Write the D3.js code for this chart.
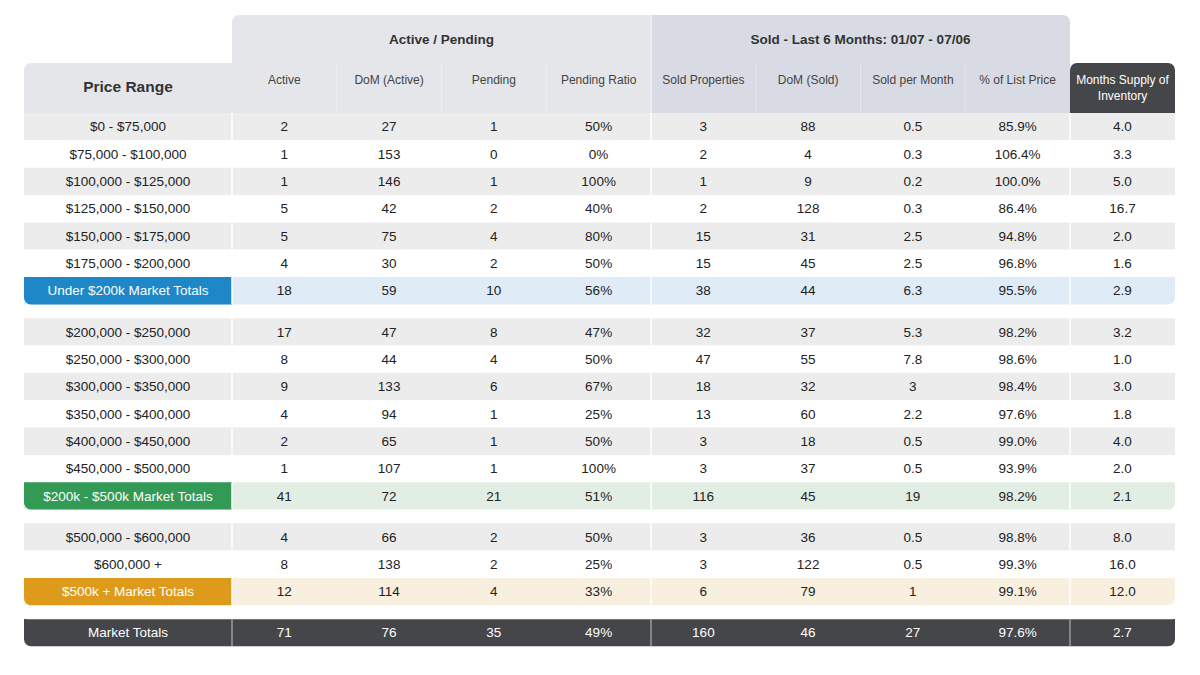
<html>
<body style="margin:0;background:#fff">
    <svg id="mainSvg" width="1200" height="675"></svg>
</body>
<script src="https://d3js.org/d3.v7.min.js"></script>
<script>
    // ---- data ----
    const priceRanges = [
        '$0 - $75,000', '$75,000 - $100,000', '$100,000 - $125,000', '$125,000 - $150,000',
        '$150,000 - $175,000', '$175,000 - $200,000', 'Under $200k Market Totals',
        '$200,000 - $250,000', '$250,000 - $300,000', '$300,000 - $350,000', '$350,000 - $400,000',
        '$400,000 - $450,000', '$450,000 - $500,000', '$200k - $500k Market Totals',
        '$500,000 - $600,000', '$600,000 +', '$500k + Market Totals',
        'Market Totals'
    ]
    const rowGroup = [0,0,0,0,0,0,0, 1,1,1,1,1,1,1, 2,2,2, 3]
    const rowType = ['r','r','r','r','r','r','t', 'r','r','r','r','r','r','t', 'r','r','t', 'g']

    const active       = ['2','1','1','5','5','4','18', '17','8','9','4','2','1','41', '4','8','12', '71']
    const domActive    = ['27','153','146','42','75','30','59', '47','44','133','94','65','107','72', '66','138','114', '76']
    const pending      = ['1','0','1','2','4','2','10', '8','4','6','1','1','1','21', '2','2','4', '35']
    const pendingRatio = ['50%','0%','100%','40%','80%','50%','56%', '47%','50%','67%','25%','50%','100%','51%', '50%','25%','33%', '49%']
    const soldProps    = ['3','2','1','2','15','15','38', '32','47','18','13','3','3','116', '3','3','6', '160']
    const domSold      = ['88','4','9','128','31','45','44', '37','55','32','60','18','37','45', '36','122','79', '46']
    const soldPerMonth = ['0.5','0.3','0.2','0.3','2.5','2.5','6.3', '5.3','7.8','3','2.2','0.5','0.5','19', '0.5','0.5','1', '27']
    const pctListPrice = ['85.9%','106.4%','100.0%','86.4%','94.8%','96.8%','95.5%', '98.2%','98.6%','98.4%','97.6%','99.0%','93.9%','98.2%', '98.8%','99.3%','99.1%', '97.6%']
    const monthsSupply = ['4.0','3.3','5.0','16.7','2.0','1.6','2.9', '3.2','1.0','3.0','1.8','4.0','2.0','2.1', '8.0','16.0','12.0', '2.7']

    const groupHeaders = ['Active / Pending', 'Sold - Last 6 Months: 01/07 - 07/06']
    const subHeaders = ['Active', 'DoM (Active)', 'Pending', 'Pending Ratio',
                        'Sold Properties', 'DoM (Sold)', 'Sold per Month', '% of List Price']
    const subColumns = [active, domActive, pending, pendingRatio, soldProps, domSold, soldPerMonth, pctListPrice]

    const totalFill = ['#1e87c8', '#329a55', '#dd9a1b']
    const totalTint = ['#dfebf7', '#e2eee4', '#f9efdf']

    // ---- layout ----
    const svg = d3.select('#mainSvg')
    const left = 24, labelRight = 232, subRight = 1070, right = 1175
    const groupTop = 15, headTop = 63, bodyTop = 113, rowH = 27.35
    const font = 'Liberation Sans, Arial, sans-serif'

    const xSub = d3.scaleBand().domain(d3.range(subHeaders.length)).range([labelRight, subRight])
    const slots = rowGroup.map((g, i) => i + g * 0.5)
    const yScale = d3.scaleLinear().domain([0, 1]).range([bodyTop, bodyTop + rowH])

    function rr(x, y, w, h, r) {
        const [tl, tr, br, bl] = r
        return `M${x + tl},${y}H${x + w - tr}A${tr},${tr} 0 0 1 ${x + w},${y + tr}` +
            `V${y + h - br}A${br},${br} 0 0 1 ${x + w - br},${y + h}` +
            `H${x + bl}A${bl},${bl} 0 0 1 ${x},${y + h - bl}V${y + tl}A${tl},${tl} 0 0 1 ${x + tl},${y}Z`
    }
    const R = 7

    // ---- header ----
    const head = svg.append('g')
    head.append('path').attr('d', rr(labelRight, groupTop, xSub(4) - labelRight, bodyTop - groupTop, [R, 0, 0, 0])).attr('fill', '#e5e6ea')
    head.append('path').attr('d', rr(xSub(4), groupTop, subRight - xSub(4), bodyTop - groupTop, [0, R, 0, 0])).attr('fill', '#d8dbe3')
    head.append('path').attr('d', rr(left, headTop, labelRight - left, bodyTop - headTop, [R, 0, 0, 0])).attr('fill', '#e5e6ea')
    head.append('path').attr('d', rr(subRight, headTop, right - subRight, bodyTop - headTop, [R, R, 0, 0])).attr('fill', '#45464a')

    head.selectAll('.subsep').data(d3.range(1, 8).filter(i => i !== 4)).join('line')
        .attr('x1', i => xSub(i)).attr('x2', i => xSub(i))
        .attr('y1', headTop).attr('y2', bodyTop)
        .attr('stroke', '#ffffff').attr('stroke-opacity', 0.35).attr('stroke-width', 1)
    head.append('line').attr('x1', xSub(4)).attr('x2', xSub(4)).attr('y1', groupTop).attr('y2', bodyTop)
        .attr('stroke', '#ffffff').attr('stroke-opacity', 0.6).attr('stroke-width', 1.5)

    head.selectAll('.ghead').data(groupHeaders).join('text')
        .attr('x', (d, i) => (xSub(i * 4) + xSub(i * 4 + 3) + xSub.bandwidth()) / 2)
        .attr('y', 39).attr('dy', '0.35em').attr('text-anchor', 'middle')
        .attr('font-family', font).attr('font-size', 13.5).attr('font-weight', 'bold').attr('fill', '#333')
        .text(d => d)

    head.append('text').attr('x', (left + labelRight) / 2).attr('y', 87).attr('dy', '0.35em')
        .attr('text-anchor', 'middle').attr('font-family', font).attr('font-size', 15.5)
        .attr('font-weight', 'bold').attr('fill', '#333').text('Price Range')

    head.selectAll('.shead').data(subHeaders).join('text')
        .attr('x', (d, i) => xSub(i) + xSub.bandwidth() / 2)
        .attr('y', 80).attr('dy', '0.35em').attr('text-anchor', 'middle')
        .attr('font-family', font).attr('font-size', 12).attr('fill', '#444')
        .text(d => d)

    head.selectAll('.mhead').data(['Months Supply of', 'Inventory']).join('text')
        .attr('x', (subRight + right) / 2).attr('y', (d, i) => 80 + i * 16).attr('dy', '0.35em')
        .attr('text-anchor', 'middle').attr('font-family', font).attr('font-size', 12).attr('fill', '#fff')
        .text(d => d)

    // ---- body ----
    const body = svg.append('g')
    const rows = body.selectAll('.row').data(priceRanges).join('g')
        .attr('transform', (d, i) => `translate(0, ${yScale(slots[i])})`)

    // background strip per row
    let stripe = 0
    const stripeIdx = rowType.map((t, i) => {
        if (i === 0 || rowGroup[i] !== rowGroup[i - 1]) stripe = 0
        return stripe++
    })

    rows.append('path')
        .attr('d', (d, i) => {
            const t = rowType[i]
            const r = t === 'g' ? [0, 0, R, R] : t === 't' ? [0, 0, R, 0] : [0, 0, 0, 0]
            return rr(left, 0, right - left, rowH, r)
        })
        .attr('fill', (d, i) => {
            const t = rowType[i]
            if (t === 'g') return '#45464a'
            if (t === 't') return totalTint[rowGroup[i]]
            return stripeIdx[i] % 2 === 0 ? '#ececec' : '#ffffff'
        })

    rows.filter((d, i) => rowType[i] === 't').append('path')
        .attr('d', rr(left, 0, labelRight - left, rowH, [0, 0, 0, R]))
        .attr('fill', (d, i, n) => totalFill[rowGroup[priceRanges.indexOf(d)]])

    rows.filter((d, i) => rowType[i] === 'g').append('line')
        .attr('x1', left + 2).attr('x2', right - 2).attr('y1', 0.5).attr('y2', 0.5)
        .attr('stroke', '#77787c').attr('stroke-width', 1)

    rows.selectAll('.sep').data(d => [labelRight, xSub(4), subRight].map(x => ({ x, g: rowType[priceRanges.indexOf(d)] === 'g' })))
        .join('line')
        .attr('x1', s => s.x).attr('x2', s => s.x).attr('y1', 0).attr('y2', rowH)
        .attr('stroke', s => s.g ? '#9a9b9e' : '#ffffff').attr('stroke-width', 1.5)

    rows.append('text')
        .attr('x', (left + labelRight) / 2).attr('y', rowH / 2).attr('dy', '0.35em')
        .attr('text-anchor', 'middle').attr('font-family', font).attr('font-size', 13.5)
        .attr('fill', (d, i) => rowType[i] === 'r' ? '#222' : '#fff')
        .text(d => d)

    rows.each(function (d, i) {
        const g = d3.select(this)
        const color = rowType[i] === 'g' ? '#fff' : '#222'
        g.selectAll('.val').data(subColumns.map(c => c[i])).join('text')
            .attr('x', (v, j) => xSub(j) + xSub.bandwidth() / 2)
            .attr('y', rowH / 2).attr('dy', '0.35em').attr('text-anchor', 'middle')
            .attr('font-family', font).attr('font-size', 13.5).attr('fill', color)
            .text(v => v)
        g.append('text')
            .attr('x', (subRight + right) / 2).attr('y', rowH / 2).attr('dy', '0.35em')
            .attr('text-anchor', 'middle').attr('font-family', font).attr('font-size', 13.5).attr('fill', color)
            .text(monthsSupply[i])
    })
</script>
</html>
